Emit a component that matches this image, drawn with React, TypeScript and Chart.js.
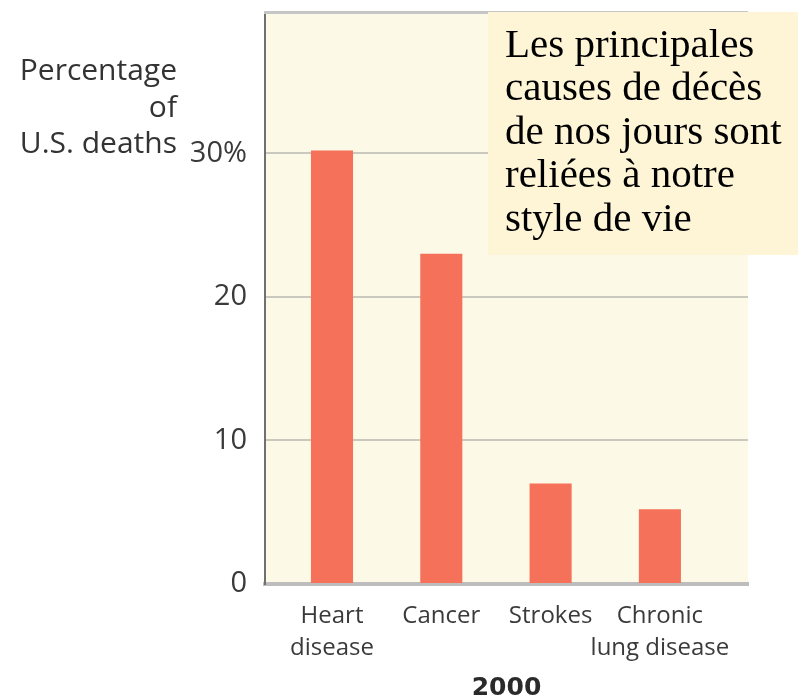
import React, { useEffect, useRef } from "react";
import { Chart, registerables } from "chart.js";

Chart.register(...registerables);

// ---- data ----
const categories: string[][] = [
  ["Heart", "disease"],
  ["Cancer"],
  ["Strokes"],
  ["Chronic", "lung disease"],
];
const deathShares: number[] = [30.2, 23.0, 7.0, 5.2];
const yTicks: number[] = [0, 10, 20, 30];
const yTitleLines: string[] = ["Percentage", "of", "U.S. deaths"];
const xTitle = "2000";
const noteLines: string[] = [
  "Les principales",
  "causes de décès",
  "de nos jours sont",
  "reliées à notre",
  "style de vie",
];

const decor = {
  id: "decor",
  beforeDraw(chart: any) {
    const { ctx, chartArea: a } = chart;
    ctx.save();
    ctx.fillStyle = "#FDF9E7";
    ctx.fillRect(a.left, a.top, a.right - a.left, a.bottom - a.top);
    ctx.restore();
  },
  afterDraw(chart: any) {
    const { ctx, chartArea: a } = chart;
    const yS = chart.scales.y;
    ctx.save();
    // top frame line
    ctx.strokeStyle = "#c6c6c6";
    ctx.lineWidth = 3;
    ctx.beginPath();
    ctx.moveTo(a.left - 1, a.top - 1.5);
    ctx.lineTo(a.right, a.top - 1.5);
    ctx.stroke();

    // y axis title (right aligned, three lines)
    ctx.fillStyle = "#333333";
    ctx.font = "30px 'Open Sans'";
    ctx.textAlign = "right";
    ctx.textBaseline = "alphabetic";
    const lastBase = yS.getPixelForValue(30);
    const n = yTitleLines.length;
    yTitleLines.forEach((l, i) => {
      ctx.fillText(l, a.left - 88, lastBase - (n - 1 - i) * 36.5);
    });

    // note box
    ctx.fillStyle = "#FEF5D7";
    ctx.fillRect(488, 12, chart.width - 488, 243);
    ctx.fillStyle = "#000000";
    ctx.font = "41px 'Liberation Serif'";
    ctx.textAlign = "left";
    noteLines.forEach((l, i) => {
      ctx.fillText(l, 505, 57 + i * 43.4);
    });
    ctx.restore();
  },
};

export default function App() {
  const ref = useRef<HTMLCanvasElement | null>(null);

  useEffect(() => {
    if (!ref.current) return;
    const chart = new Chart(ref.current, {
      type: "bar",
      data: {
        datasets: [
          {
            data: deathShares.map((v, i) => ({ x: i, y: v })),
            backgroundColor: "#F5715A",
            borderWidth: 0,
            barPercentage: 0.385,
            categoryPercentage: 1,
          } as any,
        ],
      },
      options: {
        animation: false,
        responsive: false,
        layout: { padding: { left: 0, right: 50, top: 14, bottom: 0 } },
        plugins: {
          legend: { display: false },
          tooltip: { enabled: false },
          title: { display: false },
        },
        scales: {
          x: {
            type: "linear",
            min: -0.613,
            max: 3.806,
            offset: false,
            afterBuildTicks: (s: any) => {
              s.ticks = categories.map((_, i) => ({ value: i }));
            },
            afterFit: (s: any) => {
              s.height = 114;
              s.paddingLeft = 0;
              s.paddingRight = 0;
            },
            grid: { display: false, drawTicks: false },
            border: { display: true, color: "#bdbdbd", width: 4 },
            ticks: {
              padding: 16,
              color: "#3a3a3a",
              maxRotation: 0,
              autoSkip: false,
              font: { family: "'Open Sans'", size: 24, lineHeight: 1.33 },
              callback: (v: any) => categories[Math.round(Number(v))] ?? "",
            },
            title: {
              display: true,
              text: xTitle,
              color: "#2a2a2a",
              font: { family: "'DejaVu Sans'", size: 25, weight: "bold", lineHeight: 0.75 },
              padding: { top: 0, bottom: 0 },
            },
          },
          y: {
            min: 0,
            max: 39.7,
            afterBuildTicks: (s: any) => {
              s.ticks = yTicks.map((v) => ({ value: v }));
            },
            afterFit: (s: any) => {
              s.width = 265;
              s.paddingTop = 0;
              s.paddingBottom = 0;
            },
            grid: {
              color: (c: any) =>
                c.tick && c.tick.value === 0 ? "rgba(0,0,0,0)" : "#c9c9bd",
              lineWidth: 2,
              drawTicks: false,
            },
            border: { display: true, color: "#707070", width: 2 },
            ticks: {
              padding: 18,
              color: "#3a3a3a",
              font: { family: "'Open Sans'", size: 29 },
              callback: (v: any) => (Number(v) === 30 ? "30%" : String(v)),
            },
          },
        },
      } as any,
      plugins: [decor],
    });
    return () => chart.destroy();
  }, []);

  return (
    <div
      style={{
        position: "absolute",
        left: 0,
        top: 0,
        width: 798,
        height: 698,
        background: "#ffffff",
      }}
    >
      <canvas ref={ref} width={798} height={698} style={{ display: "block" }} />
    </div>
  );
}
